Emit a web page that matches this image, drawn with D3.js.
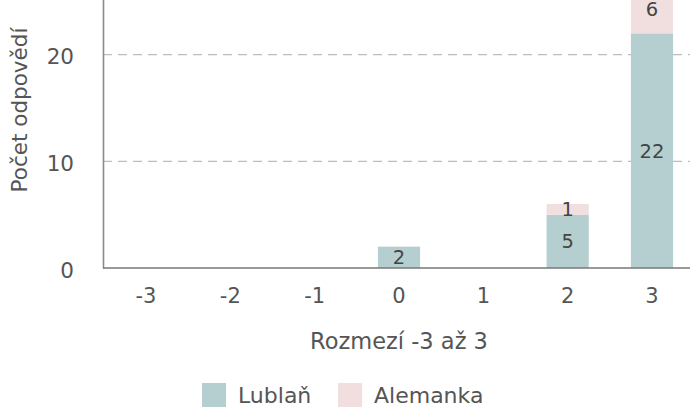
<!DOCTYPE html>
<html><head><meta charset="utf-8">
<script src="https://cdn.jsdelivr.net/npm/d3@7"></script>
<style>
html,body{margin:0;padding:0;background:#fff;}
text{font-family:"DejaVu Sans",sans-serif;}
</style></head>
<body>
<script>
const categories = ["-3","-2","-1","0","1","2","3"];
const lublan = [0,0,0,2,0,5,22];
const alemanka = [0,0,0,0,0,1,6];
const seriesNames = ["Lublaň","Alemanka"];
const seriesColors = ["#b5cfd0","#f1dfdf"];
const yTicks = [0,10,20];
const xTitle = "Rozmezí -3 až 3";
const yTitle = "Počet odpovědí";

const W = 690, H = 407;
const svg = d3.select("body").append("svg").attr("width",W).attr("height",H);

const x = d3.scaleBand().domain(categories).range([103,695]).paddingInner(0.5).paddingOuter(0.26);
const y = d3.scaleLinear().domain([0,30]).range([268,-52]);

const data = categories.map((c,i)=>({cat:c, Lublaň:lublan[i], Alemanka:alemanka[i]}));
const stack = d3.stack().keys(seriesNames)(data);

// gridlines
svg.append("g").selectAll("line").data(yTicks.filter(t=>t>0)).join("line")
  .attr("x1",103).attr("x2",W).attr("y1",d=>y(d)).attr("y2",d=>y(d))
  .attr("stroke","#bdbdbd").attr("stroke-width",1.2).attr("stroke-dasharray","9,6");

// bars
stack.forEach((s,si)=>{
  svg.append("g").selectAll("rect").data(s).join("rect")
    .attr("x",d=>x(d.data.cat)).attr("width",x.bandwidth())
    .attr("y",d=>y(d[1])).attr("height",d=>y(d[0])-y(d[1]))
    .attr("fill",seriesColors[si]);
  svg.append("g").selectAll("text").data(s.filter(d=>d[1]-d[0]>0)).join("text")
    .attr("x",d=>x(d.data.cat)+x.bandwidth()/2)
    .attr("y",d=>Math.max(y((d[0]+d[1])/2), 9))
    .attr("dy","0.36em").attr("text-anchor","middle")
    .attr("font-size",19.5).attr("fill","#444")
    .text(d=>d[1]-d[0]);
});

// y axis
const yAxis = svg.append("g").attr("transform","translate(103,0)")
  .call(d3.axisLeft(y).tickValues(yTicks).tickSize(0).tickPadding(29));
yAxis.select(".domain").attr("stroke","#8a8a8a").attr("stroke-width",1.6);
yAxis.selectAll("text").attr("font-size",21.5).attr("fill","#555").attr("font-family","DejaVu Sans").attr("dy","0.42em");

// x axis
const xAxis = svg.append("g").attr("transform","translate(0,268)")
  .call(d3.axisBottom(x).tickSize(0).tickPadding(20));
xAxis.select(".domain").remove();
xAxis.append("line").attr("x1",103).attr("x2",W).attr("y1",0).attr("y2",0)
  .attr("stroke","#777").attr("stroke-width",1.6);
xAxis.selectAll(".tick text").attr("font-size",21).attr("fill","#555").attr("font-family","DejaVu Sans");

// titles
svg.append("text").attr("x",399).attr("y",349).attr("text-anchor","middle")
  .attr("font-size",22.5).attr("fill","#555").text(xTitle);
svg.append("text").attr("transform","translate(27,110) rotate(-90)").attr("text-anchor","middle")
  .attr("font-size",21.5).attr("fill","#555").text(yTitle);

// legend
const legendX = [202,338];
seriesNames.forEach((n,i)=>{
  svg.append("rect").attr("x",legendX[i]).attr("y",383).attr("width",24).attr("height",24).attr("fill",seriesColors[i]);
  svg.append("text").attr("x",legendX[i]+36).attr("y",403).attr("font-size",22).attr("fill","#555").text(n);
});
</script>
</body></html>
